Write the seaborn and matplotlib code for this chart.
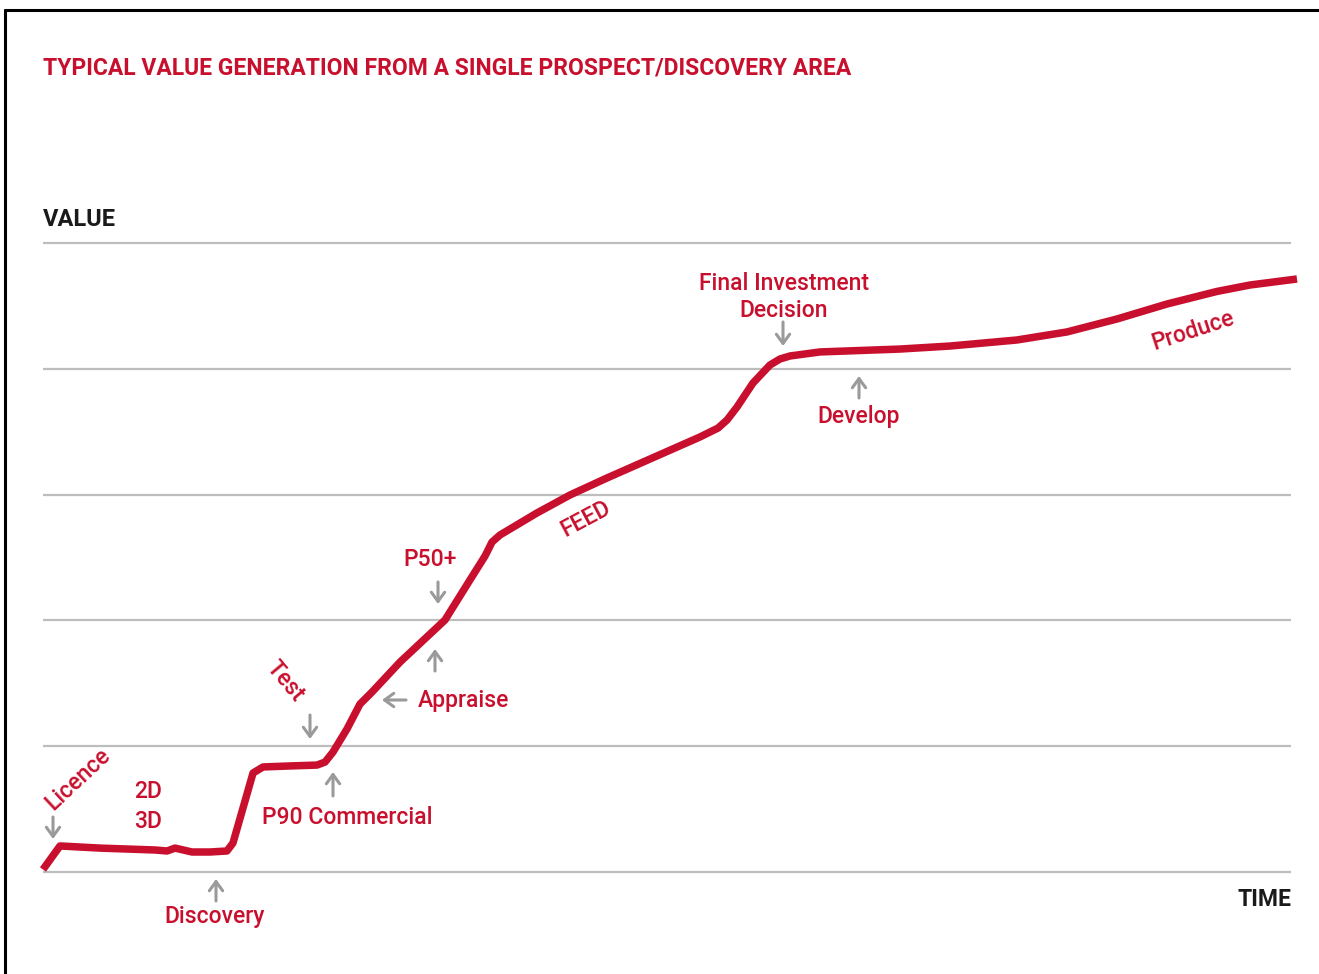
import matplotlib
matplotlib.use("Agg")
import matplotlib.pyplot as plt
from matplotlib.lines import Line2D
import seaborn as sns
import pandas as pd

# ---- data (time in % of horizon, value in gridline units) ----
time = [0.0, 1.36, 4.57, 8.97, 9.94, 10.58, 11.94, 13.38, 14.74, 15.22, 16.83, 17.63,
        19.79, 21.96, 22.6, 23.24, 24.36, 25.4, 26.36, 28.61, 32.21, 34.21, 35.42,
        35.98, 36.62, 39.58, 42.23, 45.19, 48.64, 52.64, 54.09, 54.81, 55.61, 56.89,
        58.25, 59.05, 59.86, 62.26, 68.67, 72.68, 78.04, 82.05, 86.06, 90.06, 94.07,
        96.71, 100.48]
value = [0.02, 0.207, 0.19, 0.175, 0.167, 0.19, 0.159, 0.159, 0.167, 0.23, 0.787, 0.835,
         0.843, 0.85, 0.874, 0.954, 1.137, 1.335, 1.43, 1.669, 2.003, 2.321, 2.512,
         2.623, 2.679, 2.854, 2.997, 3.132, 3.283, 3.458, 3.529, 3.593, 3.696, 3.887,
         4.030, 4.078, 4.102, 4.134, 4.157, 4.181, 4.229, 4.293, 4.396, 4.515, 4.615,
         4.666, 4.714]
grid_levels = [0, 1, 2, 3, 4, 5]

TITLE = "TYPICAL VALUE GENERATION FROM A SINGLE PROSPECT/DISCOVERY AREA"
RED = "#C8102E"
GREY = "#9A9A9A"
GRIDC = "#BDBDBD"

sns.set_theme(style="white")
plt.rcParams['font.family'] = ['Roboto', 'DejaVu Sans']

W, H = 1319, 974
fig = plt.figure(figsize=(W / 100, H / 100), dpi=100)
ax = fig.add_axes([0, 0, 1, 1])

XS, YS = 12.48, 125.8  # pixels per unit
X0, Y0 = 43, 872
ax.set_xlim(-X0 / XS, (W - X0) / XS)
ax.set_ylim((Y0 - H) / YS, Y0 / YS)
ax.axis("off")


def P(px, py):
    return ((px - X0) / XS, (Y0 - py) / YS)


# gridlines
ax.hlines(grid_levels, 0, 100, colors=GRIDC, linewidth=1.6, zorder=1)

df = pd.DataFrame({"time": time, "value": value})
sns.lineplot(data=df, x="time", y="value", sort=False, estimator=None,
             color=RED, linewidth=5.4, ax=ax, zorder=3,
             solid_capstyle="butt", solid_joinstyle="round")

# frame
fig.add_artist(Line2D([5 / W, 1], [1 - 10 / H, 1 - 10 / H], color="black", lw=2.2,
                      transform=fig.transFigure))
fig.add_artist(Line2D([5 / W, 5 / W], [0, 1 - 10 / H], color="black", lw=2.2,
                      transform=fig.transFigure))

# title & axis labels
ax.text(*P(43, 68), TITLE, color=RED, fontsize=16.5, fontweight="bold",
        ha="left", va="center")
ax.text(*P(43, 219), "VALUE", color="#1a1a1a", fontsize=17, fontweight="bold",
        ha="left", va="center")
ax.text(*P(1291, 899), "TIME", color="#1a1a1a", fontsize=16.5, fontweight="bold",
        ha="right", va="center")

FS = 16.5


def lab(px, py, s, rot=0):
    ax.text(*P(px, py), s, color=RED, fontsize=FS, ha="center", va="center",
            rotation=rot, rotation_mode="anchor", fontweight="medium")


def arrow(x1, y1, x2, y2):
    ax.annotate("", xy=P(x2, y2), xytext=P(x1, y1),
                arrowprops=dict(arrowstyle="->,head_length=0.55,head_width=0.4",
                                color=GREY, lw=2.2, shrinkA=0, shrinkB=0))


lab(78, 779, "Licence", 43)
arrow(53, 817, 53, 839)
lab(148, 792, "2D")
lab(148, 821, "3D")
arrow(216, 901, 216, 879)
lab(215, 917, "Discovery")
arrow(333, 796, 333, 772)
lab(347, 818, "P90 Commercial")
lab(285, 681, "Test", -50)
arrow(310, 715, 310, 739)
arrow(406, 700, 382, 700)
lab(463, 700, "Appraise")
arrow(435, 671, 435, 649)
lab(430, 559, "P50+")
arrow(438, 582, 438, 604)
lab(586, 519, "FEED", 28)
lab(784, 284, "Final Investment")
lab(784, 310, "Decision")
arrow(783, 322, 783, 346)
arrow(859, 398, 859, 376)
lab(859, 416, "Develop")
lab(1193, 331, "Produce", 18)

fig.savefig("out.png", dpi=100)
